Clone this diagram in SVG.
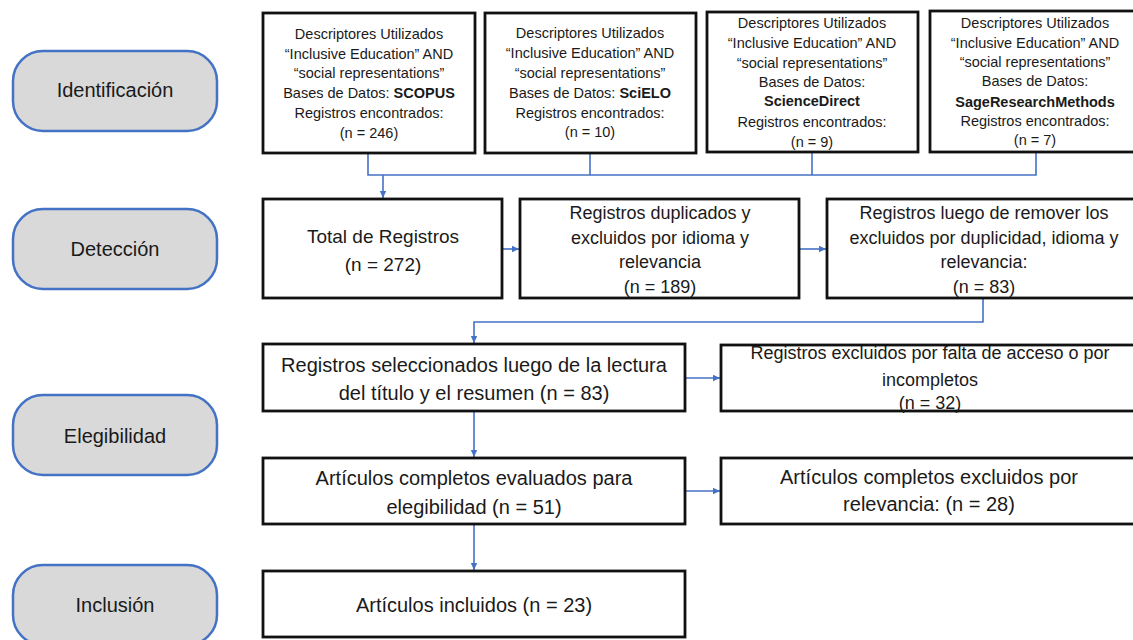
<svg xmlns="http://www.w3.org/2000/svg" width="1133" height="640" viewBox="0 0 1133 640">
<defs>
<marker id="ah" markerUnits="userSpaceOnUse" markerWidth="8" markerHeight="8" refX="7" refY="4" orient="auto">
<path d="M0,0.8 L7,4 L0,7.2 Z" fill="#4472c4"/>
</marker>
<style>
.phase rect{fill:#d9d9d9;stroke:#4472c4;stroke-width:2.5}
.phase text{font-family:"Liberation Sans",Arial,sans-serif;font-size:20px;fill:#1a1a1a;text-anchor:middle}
.box rect{fill:#ffffff;stroke:#111111;stroke-width:2.8}
.box text{font-family:"Liberation Sans",Arial,sans-serif;fill:#1a1a1a;text-anchor:middle}
.s14{font-size:14.5px}
.s18{font-size:18px}
.s19{font-size:19px}
.s20{font-size:20px}
.b{font-weight:bold}
.con path{fill:none;stroke:#4472c4;stroke-width:1.6}
.arr{marker-end:url(#ah)}
</style>
</defs>
<rect width="1133" height="640" fill="#ffffff"/>

<g id="phase-identificacion" class="phase"><rect x="13" y="51" width="204" height="80" rx="30"/><text x="115" y="97">Identificación</text></g>
<g id="phase-deteccion" class="phase"><rect x="13" y="209" width="204" height="80" rx="30"/><text x="115" y="256">Detección</text></g>
<g id="phase-elegibilidad" class="phase"><rect x="13" y="395" width="204" height="80" rx="30"/><text x="115" y="443">Elegibilidad</text></g>
<g id="phase-inclusion" class="phase"><rect x="13" y="565" width="204" height="80" rx="30"/><text x="115" y="612">Inclusión</text></g>

<g id="connectors" class="con">
<path d="M368,153 V175 H1036 V152"/>
<path d="M590,153 V175"/>
<path d="M812,152 V175"/>
<path class="arr" d="M383,175 V198"/>
<path class="arr" d="M502,249 H519"/>
<path class="arr" d="M799,249 H826"/>
<path class="arr" d="M983,298 V322 H474 V343"/>
<path class="arr" d="M685,378 H720"/>
<path class="arr" d="M474,411 V457"/>
<path class="arr" d="M685,491 H720"/>
<path class="arr" d="M474,524 V570"/>
</g>

<g id="box-scopus" class="box"><rect x="263" y="13" width="212" height="140"/>
<text class="s14"><tspan x="369" y="39">Descriptores Utilizados</tspan><tspan x="369" y="59">“Inclusive Education” AND</tspan><tspan x="369" y="78">“social representations”</tspan><tspan x="369" y="98">Bases de Datos: <tspan class="b">SCOPUS</tspan></tspan><tspan x="369" y="118">Registros encontrados:</tspan><tspan x="369" y="138">(n = 246)</tspan></text></g>

<g id="box-scielo" class="box"><rect x="485" y="13" width="211" height="140"/>
<text class="s14"><tspan x="590" y="38">Descriptores Utilizados</tspan><tspan x="590" y="58">“Inclusive Education” AND</tspan><tspan x="590" y="78">“social representations”</tspan><tspan x="590" y="98">Bases de Datos: <tspan class="b">SciELO</tspan></tspan><tspan x="590" y="118">Registros encontrados:</tspan><tspan x="590" y="137">(n = 10)</tspan></text></g>

<g id="box-sciencedirect" class="box"><rect x="707" y="12" width="211" height="140"/>
<text class="s14"><tspan x="812" y="28">Descriptores Utilizados</tspan><tspan x="812" y="48">“Inclusive Education” AND</tspan><tspan x="812" y="68">“social representations”</tspan><tspan x="812" y="87">Bases de Datos:</tspan><tspan x="812" y="106" class="b">ScienceDirect</tspan><tspan x="812" y="127">Registros encontrados:</tspan><tspan x="812" y="147">(n = 9)</tspan></text></g>

<g id="box-sage" class="box"><rect x="930" y="11" width="210" height="141"/>
<text class="s14"><tspan x="1035" y="28">Descriptores Utilizados</tspan><tspan x="1035" y="48">“Inclusive Education” AND</tspan><tspan x="1035" y="67">“social representations”</tspan><tspan x="1035" y="86">Bases de Datos:</tspan><tspan x="1035" y="107" class="b">SageResearchMethods</tspan><tspan x="1035" y="126">Registros encontrados:</tspan><tspan x="1035" y="145">(n = 7)</tspan></text></g>

<g id="box-total" class="box"><rect x="263" y="199" width="239" height="99"/>
<text class="s19"><tspan x="383" y="243">Total de Registros</tspan><tspan x="383" y="271">(n = 272)</tspan></text></g>

<g id="box-duplicados" class="box"><rect x="520" y="199" width="279" height="99"/>
<text class="s18"><tspan x="660" y="219">Registros duplicados y</tspan><tspan x="660" y="244">excluidos por idioma y</tspan><tspan x="660" y="268">relevancia</tspan><tspan x="660" y="293">(n = 189)</tspan></text></g>

<g id="box-luego" class="box"><rect x="827" y="199" width="313" height="99"/>
<text class="s18"><tspan x="984" y="219">Registros luego de remover los</tspan><tspan x="984" y="244">excluidos por duplicidad, idioma y</tspan><tspan x="984" y="268">relevancia:</tspan><tspan x="984" y="293">(n = 83)</tspan></text></g>

<g id="box-seleccionados" class="box"><rect x="263" y="344" width="422" height="67"/>
<text class="s20"><tspan x="474" y="372">Registros seleccionados luego de la lectura</tspan><tspan x="474" y="400">del título y el resumen (n = 83)</tspan></text></g>

<g id="box-excluidos-acceso" class="box"><rect x="721" y="345" width="419" height="66"/>
<text class="s18"><tspan x="930" y="359">Registros excluidos por falta de acceso o por</tspan><tspan x="930" y="386">incompletos</tspan><tspan x="930" y="409">(n = 32)</tspan></text></g>

<g id="box-evaluados" class="box"><rect x="263" y="458" width="422" height="66"/>
<text class="s20"><tspan x="474" y="485">Artículos completos evaluados para</tspan><tspan x="474" y="514">elegibilidad (n = 51)</tspan></text></g>

<g id="box-excluidos-relevancia" class="box"><rect x="721" y="458" width="419" height="66"/>
<text class="s20"><tspan x="929" y="484">Artículos completos excluidos por</tspan><tspan x="929" y="511">relevancia: (n = 28)</tspan></text></g>

<g id="box-incluidos" class="box"><rect x="263" y="571" width="422" height="66"/>
<text class="s20"><tspan x="474" y="612">Artículos incluidos (n = 23)</tspan></text></g>
</svg>
